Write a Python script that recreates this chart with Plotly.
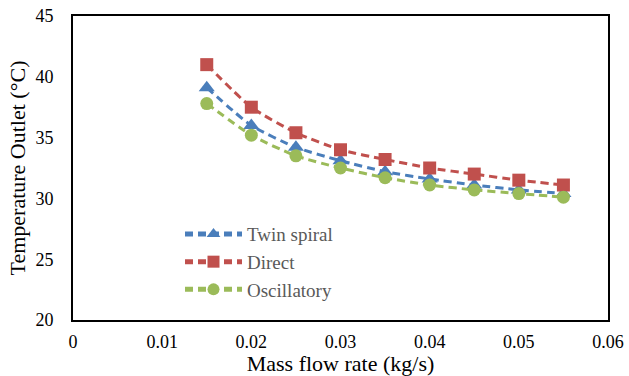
import plotly.graph_objects as go

mass_flow = [0.015, 0.02, 0.025, 0.03, 0.035, 0.04, 0.045, 0.05, 0.055]
twin_spiral = [39.1, 36.0, 34.2, 33.1, 32.2, 31.6, 31.1, 30.7, 30.4]
direct = [41.0, 37.5, 35.4, 34.0, 33.2, 32.5, 32.0, 31.5, 31.1]
oscillatory = [37.8, 35.2, 33.5, 32.5, 31.7, 31.1, 30.7, 30.4, 30.1]

x_ticks = [0, 0.01, 0.02, 0.03, 0.04, 0.05, 0.06]
x_tick_labels = ["0", "0.01", "0.02", "0.03", "0.04", "0.05", "0.06"]
y_ticks = [20, 25, 30, 35, 40, 45]

series = [
    ("Twin spiral", twin_spiral, "#4A7EBB", "triangle-up", 14),
    ("Direct", direct, "#C0504D", "square", 13),
    ("Oscillatory", oscillatory, "#9BBB59", "circle", 13),
]

fig = go.Figure()
for name, vals, color, sym, size in series:
    fig.add_trace(go.Scatter(
        x=mass_flow, y=vals, name=name, mode="lines+markers",
        line=dict(color=color, width=3, dash="8px,5px", shape="spline", smoothing=0.6),
        marker=dict(symbol=sym, size=size, color=color),
    ))

font_family = "Liberation Serif, DejaVu Serif, serif"
fig.update_layout(
    width=629, height=376,
    margin=dict(l=73, r=21, t=16, b=56),
    paper_bgcolor="white", plot_bgcolor="white",
    font=dict(family=font_family, size=18, color="#000000"),
    showlegend=True,
    legend=dict(
        x=0.2, y=0.345, xanchor="left", yanchor="top",
        bgcolor="rgba(0,0,0,0)",
        font=dict(family=font_family, size=19, color="#595959"),
        tracegroupgap=0, itemwidth=57, itemsizing="constant",
    ),
    xaxis=dict(
        range=[0, 0.06], tickvals=x_ticks, ticktext=x_tick_labels,
        showgrid=False, zeroline=False, automargin=False,
        showline=True, linecolor="#000000", linewidth=2, mirror=True,
        ticks="outside", ticklen=4, tickcolor="rgba(0,0,0,0)",
        title=dict(text="Mass flow rate (kg/s)", font=dict(size=22), standoff=0),
    ),
    yaxis=dict(
        range=[20, 45], tickvals=y_ticks,
        showgrid=False, zeroline=False, automargin=False,
        showline=True, linecolor="#000000", linewidth=2, mirror=True,
        ticks="outside", ticklen=14, tickcolor="rgba(0,0,0,0)",
        title=dict(text="Temperature Outlet (°C)", font=dict(size=22), standoff=4),
    ),
)

fig.write_html(
    "out.html",
    config={"displayModeBar": False},
    post_script="document.body.style.margin='0';document.body.style.padding='0';",
)
